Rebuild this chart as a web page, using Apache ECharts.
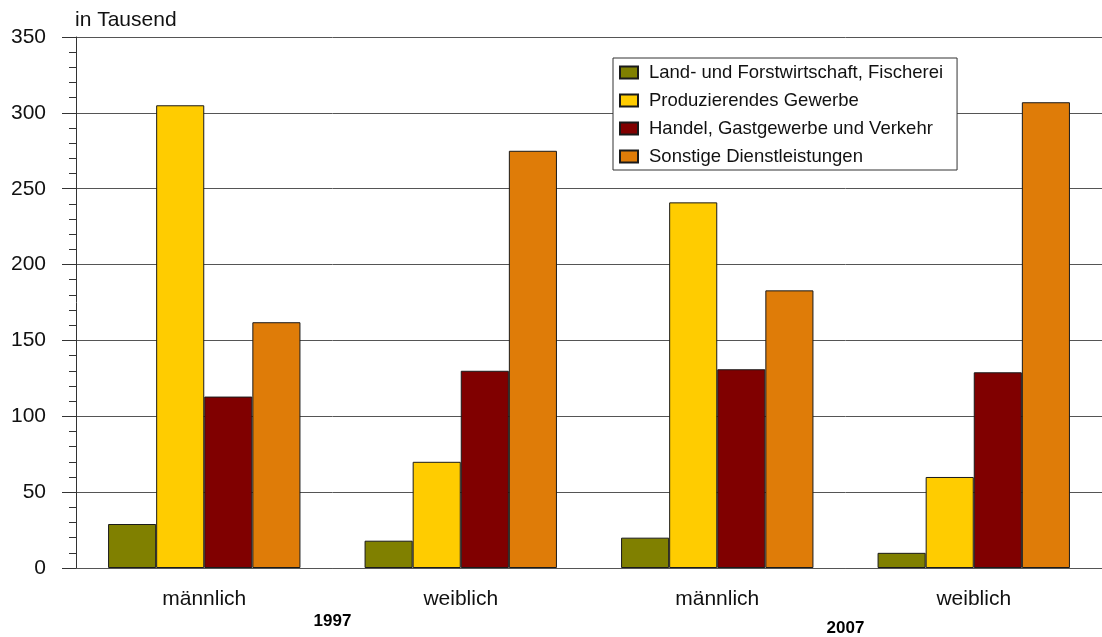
<!DOCTYPE html>
<html>
<head>
<meta charset="utf-8">
<script src="https://cdn.jsdelivr.net/npm/echarts@6/dist/echarts.min.js"></script>
<style>
  html, body { margin: 0; padding: 0; background: #fff; }
  #chart { width: 1102px; height: 637px; }
</style>
</head>
<body>
<div id="chart"></div>
<script>
// Kategorien (Geschlecht je Jahr)
const categories = ['männlich', 'weiblich', 'männlich', 'weiblich']
const years = ['1997', '2007']
const seriesNames = [
  'Land- und Forstwirtschaft, Fischerei',
  'Produzierendes Gewerbe',
  'Handel, Gastgewerbe und Verkehr',
  'Sonstige Dienstleistungen'
]
// Werte in Tausend
const landwirtschaft = [29, 18, 20, 10]
const produzierend = [305, 70, 241, 60]
const handel = [113, 130, 131, 129]
const dienstleistungen = [162, 275, 183, 307]
const colors = ['#808000', '#FFCC00', '#800000', '#DF7C08']

const font = '"Liberation Sans", Arial, sans-serif'
const chart = echarts.init(document.getElementById('chart'))

const values = [landwirtschaft, produzierend, handel, dienstleistungen]

chart.setOption({
  animation: false,
  textStyle: { fontFamily: font },
  title: {
    text: 'in Tausend',
    left: 75,
    top: 10,
    padding: 0,
    textStyle: { fontSize: 21, fontWeight: 'normal', color: '#111', fontFamily: font }
  },
  legend: {
    orient: 'vertical',
    left: 613,
    top: 58,
    padding: [5, 14, 4, 6],
    itemGap: 9,
    itemWidth: 18,
    itemHeight: 12,
    icon: 'rect',
    borderColor: '#333',
    borderWidth: 1,
    backgroundColor: '#fff',
    textStyle: { fontSize: 18.5, color: '#111', padding: [0, 0, 0, 6] },
    data: seriesNames
  },
  grid: { left: 76, right: 0, top: 37, bottom: 69, outerBoundsMode: 'none' },
  xAxis: [
    {
      type: 'category',
      data: categories,
      axisLine: { lineStyle: { color: '#555', width: 1 } },
      axisTick: { show: false },
      axisLabel: { fontSize: 21, color: '#111', margin: 21 }
    },
    {
      type: 'category',
      data: years,
      position: 'bottom',
      offset: 37,
      axisLine: { show: false },
      axisTick: { show: false },
      axisLabel: {
        fontSize: 17,
        fontWeight: 'bold',
        color: '#000',
        fontFamily: '"Liberation Sans Narrow", "Liberation Sans", Arial, sans-serif',
        formatter: (v) => v === '1997' ? '{a|' + v + '}' : '{b|' + v + '}',
        rich: {
          a: { padding: [0, 0, 0, 0], fontSize: 17, fontWeight: 'bold' },
          b: { padding: [7, 0, 0, 0], fontSize: 17, fontWeight: 'bold' }
        }
      }
    }
  ],
  yAxis: {
    type: 'value',
    min: 0,
    max: 350,
    interval: 50,
    axisLine: { show: true, lineStyle: { color: '#333', width: 1 } },
    axisTick: { show: true, length: 14, lineStyle: { color: '#333' } },
    minorTick: { show: true, splitNumber: 5, length: 7, lineStyle: { color: '#333' } },
    splitLine: { show: true, lineStyle: { color: '#555', width: 1 } },
    axisLabel: { fontSize: 21, color: '#111', margin: 30 }
  },
  series: seriesNames.map((name, i) => ({
    name: name,
    type: 'bar',
    xAxisIndex: 0,
    data: values[i],
    barGap: '0%',
    barCategoryGap: '25%',
    itemStyle: { color: colors[i], borderColor: '#1a1a1a', borderWidth: 1 }
  }))
})
</script>
</body>
</html>
